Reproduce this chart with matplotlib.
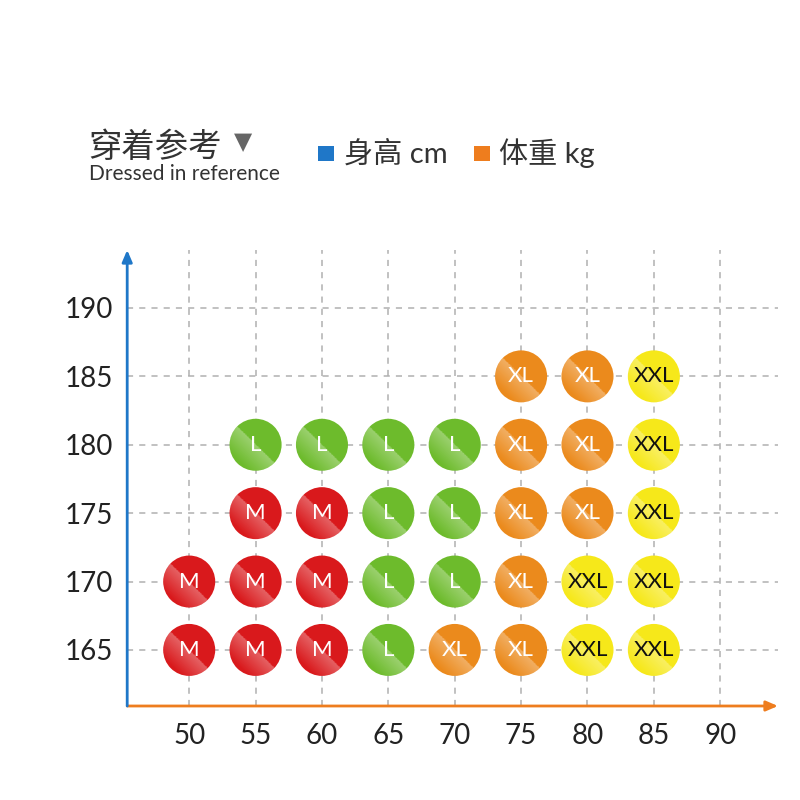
import numpy as np
import matplotlib.pyplot as plt
from matplotlib.patches import Ellipse, Rectangle

# size chart: weight (kg) on x, height (cm) on y
weights = [50, 55, 60, 65, 70, 75, 80, 85]
heights = [165, 170, 175, 180, 185]
sizes = {
    185: [None, None, None, None, None, "XL", "XL", "XXL"],
    180: [None, "L", "L", "L", "L", "XL", "XL", "XXL"],
    175: [None, "M", "M", "L", "L", "XL", "XL", "XXL"],
    170: ["M", "M", "M", "L", "L", "XL", "XXL", "XXL"],
    165: ["M", "M", "M", "L", "XL", "XL", "XXL", "XXL"],
}
x_ticks = [50, 55, 60, 65, 70, 75, 80, 85, 90]
y_ticks = [165, 170, 175, 180, 185, 190]

fill = {"M": "#d9191c", "L": "#6dbb2c", "XL": "#eb8a1c", "XXL": "#f6e81a"}
label_col = {"M": "white", "L": "white", "XL": "white", "XXL": "#111111"}
blue = "#1f77c8"
orange = "#ee7d1e"
grid_col = "#b0b0b0"
latin = ["Lato", "Noto Sans CJK SC", "DejaVu Sans"]
cjk = ["Noto Sans CJK SC", "DejaVu Sans"]

fig = plt.figure(figsize=(8, 8), dpi=100)
fig.set_facecolor("white")
ax = fig.add_axes([0.159, 0.1175, 0.8135, 0.57])
xlim = (45.33, 94.35)
ylim = (160.9, 194.24)

for s in ax.spines.values():
    s.set_visible(False)
ax.set_xticks(x_ticks)
ax.set_yticks(y_ticks)
ax.tick_params(length=0, labelsize=20, colors="#222222")
ax.tick_params(axis="x", pad=12)
ax.tick_params(axis="y", pad=10)
for t in ax.get_xticklabels() + ax.get_yticklabels():
    t.set_family(latin)
ax.grid(True, color=grid_col, linestyle=(0, (4, 4)), linewidth=1.1)
ax.set_axisbelow(True)

# axis arrows
ax.annotate("", xy=(1.0, 0), xytext=(0, 0), xycoords="axes fraction",
            arrowprops=dict(arrowstyle="-|>,head_length=0.7,head_width=0.3",
                            color=orange, lw=2, shrinkA=0, shrinkB=0))
ax.annotate("", xy=(0, 1.0), xytext=(0, 0), xycoords="axes fraction",
            arrowprops=dict(arrowstyle="-|>,head_length=0.7,head_width=0.3",
                            color=blue, lw=2, shrinkA=0, shrinkB=0))

# sheen gradient
n = 80
u, v = np.meshgrid(np.linspace(-1, 1, n), np.linspace(-1, 1, n))
d = u + v
alpha = np.where(d < 0, np.clip(0.32 * (1 + d / 1.3), 0, None), 0.0)
sheen = np.zeros((n, n, 4))
sheen[..., :3] = 1.0
sheen[..., 3] = alpha

rx, ry = 1.96, 1.90
for h in heights:
    for w, sz in zip(weights, sizes[h]):
        if sz is None:
            continue
        e = Ellipse((w, h), 2 * rx, 2 * ry, facecolor=fill[sz], edgecolor="none", zorder=3)
        ax.add_patch(e)
        im = ax.imshow(sheen, extent=(w - rx, w + rx, h - ry, h + ry), origin="lower",
                       aspect="auto", interpolation="bilinear", zorder=4)
        im.set_clip_path(e)
        ax.text(w, h, sz, ha="center", va="center", fontsize=16, color=label_col[sz],
                family=latin, zorder=5)

ax.set_xlim(*xlim)
ax.set_ylim(*ylim)

# header
fig.text(0.111, 0.815, "穿着参考", fontsize=24, family=cjk, color="#333333", va="center")
fig.text(0.293, 0.822, "▼", fontsize=17, family=["DejaVu Sans"], color="#666666", va="center")
fig.text(0.111, 0.782, "Dressed in reference", fontsize=15, family=latin,
         color="#333333", va="center")
fig.patches.append(Rectangle((0.398, 0.799), 0.019, 0.019, transform=fig.transFigure,
                             facecolor=blue, edgecolor="none"))
fig.text(0.430, 0.808, "身高 cm", fontsize=21, family=latin, color="#333333", va="center")
fig.patches.append(Rectangle((0.593, 0.799), 0.019, 0.019, transform=fig.transFigure,
                             facecolor=orange, edgecolor="none"))
fig.text(0.624, 0.808, "体重 kg", fontsize=21, family=latin, color="#333333", va="center")

fig.savefig("out.png", dpi=100)
